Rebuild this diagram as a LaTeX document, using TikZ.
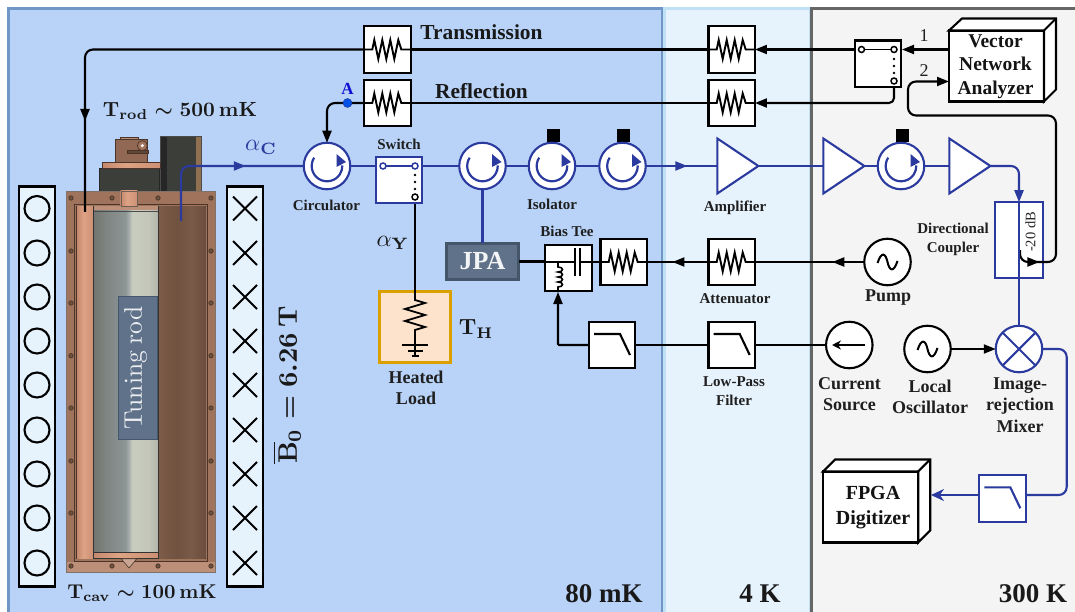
\documentclass[tikz,border=0pt]{standalone}
\usepackage{graphicx}
\usepackage{amsmath}
\usepackage[no-math]{fontspec}
\setmainfont{Liberation Serif}
\usetikzlibrary{arrows.meta,decorations.markings,shapes.geometric,calc}
\definecolor{sig}{HTML}{2B3A9E}
\definecolor{mk}{HTML}{B9D3F8}
\definecolor{mkb}{HTML}{7096C6}
\definecolor{fk}{HTML}{E6F3FD}
\definecolor{fkb}{HTML}{BFE0F5}
\definecolor{rk}{HTML}{F4F4F4}
\definecolor{rkb}{HTML}{666666}
\definecolor{slate}{HTML}{5F7289}
\definecolor{slateb}{HTML}{45566A}
\definecolor{coilfill}{HTML}{E6F3FD}
\definecolor{frm}{HTML}{A0745C}
\definecolor{frml}{HTML}{BC8F79}
\definecolor{frmd}{HTML}{4A3528}
\definecolor{dk}{HTML}{3B3E39}
\definecolor{rodA}{RGB}{114,117,111}
\definecolor{rodB}{RGB}{128,132,130}
\definecolor{rodC}{RGB}{140,150,150}
\definecolor{rodD}{RGB}{170,178,176}
\definecolor{rodE}{RGB}{200,204,190}
\definecolor{rodF}{RGB}{195,198,184}
\definecolor{rodG}{RGB}{178,182,168}
\definecolor{cuA}{RGB}{196,136,110}
\definecolor{cuB}{RGB}{222,162,132}
\definecolor{cuC}{RGB}{204,144,116}
\definecolor{brA}{RGB}{125,92,72}
\definecolor{brB}{RGB}{112,82,64}
\definecolor{brC}{RGB}{122,90,72}
\definecolor{brD}{RGB}{106,78,62}
\pgfdeclarehorizontalshading{rodshade}{100bp}{color(0bp)=(rodA);color(25bp)=(rodA);color(35bp)=(rodB);color(50bp)=(rodC);color(53bp)=(rodD);color(55bp)=(rodE);color(68bp)=(rodF);color(75bp)=(rodG);color(100bp)=(rodG)}
\pgfdeclarehorizontalshading{coppershade}{100bp}{color(0bp)=(cuA);color(25bp)=(cuA);color(45bp)=(cuB);color(75bp)=(cuC);color(100bp)=(cuC)}
\pgfdeclarehorizontalshading{brownshade}{100bp}{color(0bp)=(brA);color(25bp)=(brA);color(45bp)=(brB);color(60bp)=(brC);color(75bp)=(brD);color(100bp)=(brD)}
\tikzset{
  wire/.style={line width=2.1pt,black},
  bwire/.style={line width=2.1pt,sig},
  tip/.style={-{Triangle[length=12pt,width=9pt]}},
  arrat/.style={postaction={decorate,decoration={markings,mark=at position #1 with {\arrow{Triangle[length=12pt,width=9pt]}}}}},
  symbox/.style={draw=black,fill=white,line width=2.1pt,minimum size=46.5pt,inner sep=0,outer sep=0},
  bsymbox/.style={symbox,draw=sig},
  rnd/.style={circle,draw=black,fill=white,line width=2.1pt,minimum size=46.5pt,inner sep=0,outer sep=0},
  brnd/.style={rnd,draw=sig},
  amp/.style={isosceles triangle,isosceles triangle stretches,shape border rotate=0,draw=sig,fill=white,line width=2.1pt,minimum height=41pt,minimum width=55pt,inner sep=0,outer sep=0},
  lab/.style={font=\bfseries\fontsize{15}{19}\selectfont,text=black!88,inner sep=0,align=center},
  labb/.style={font=\bfseries\fontsize{18}{21.5}\selectfont,text=black!88,inner sep=0,align=center},
  big/.style={font=\bfseries\fontsize{21.4}{24}\selectfont,text=black!90,inner sep=0},
  huge/.style={font=\bfseries\fontsize{27}{30}\selectfont,text=black!90,inner sep=0},
  instr/.style={draw=black,fill=white,line width=2.1pt,inner sep=0,outer sep=0},
  instrt/.style={inner sep=0,text=black!92,font=\bfseries\fontsize{19.5}{23.7}\selectfont,align=center},
  coilc/.style={circle,draw=black,line width=2.1pt,minimum size=25pt,inner sep=0},
  coilbox/.style={draw=black,fill=coilfill,line width=2.3pt,minimum width=36pt,minimum height=400pt,inner sep=0,outer sep=0},
}
\newcommand{\ResSym}[3]{\draw[#3,line width=1.9pt,miter limit=10] (#1-24,#2)--(#1-15,#2)--(#1-13,#2-9.5)--(#1-9,#2+9.5)--(#1-5,#2-9.5)--(#1-1,#2+9.5)--(#1+3,#2-9.5)--(#1+7,#2+9.5)--(#1+11,#2-9.5)--(#1+14,#2)--(#1+24,#2);}
\newcommand{\LPSym}[3]{\draw[#3,line width=2.1pt] (#1-18,#2-11)--(#1+8,#2-11)--(#1+18,#2+10);}
\newcommand{\IsoSym}[2]{\draw[sig,line width=2.2pt] (#1,#2) ++(147:15.3pt) arc[start angle=147,end angle=362,radius=15.3pt];
 \fill[sig] (#1+9.5,#2-12)--(#1+19,#2-4)--(#1+9.5,#2+1)--cycle;}
\newcommand{\SineSym}[2]{\draw[black,line width=2pt] (#1-10,#2+1) .. controls (#1-6,#2-11) and (#1-2,#2-9) .. (#1,#2) .. controls (#1+2,#2+9) and (#1+6,#2+11) .. (#1+10,#2-1);}
\begin{document}
\begin{tikzpicture}[x=1pt,y=-1pt]
\useasboundingbox (0,0) rectangle (1075,612);
\begin{scope}
\clip (0,0) rectangle (1075,612);
\draw[fill=mk,draw=mkb,line width=3pt] (8.5,8.5) rectangle (662,640);
\draw[fill=fk,draw=fkb,line width=3pt] (664.5,8.5) rectangle (810,640);
\draw[fill=rk,draw=rkb,line width=3pt] (811,8.5) rectangle (1085,640);
\end{scope}
% magnet coils
\node[coilbox] (coilL) at (37,386.5) {};
\node[coilbox] (coilR) at (245,386.5) {};
\foreach \i/\y in {1/208.5,2/253,3/297,4/341,5/385,6/430,7/474,8/518,9/563}{
  \node[coilc] (wire\i) at (37,\y) {};
  \draw[black,line width=2.1pt] (233,\y-12)--(257,\y+12) (233,\y+12)--(257,\y-12);
}
% cavity top parts
\fill[dk] (160.7,136.7) rectangle (201.7,191);
\fill[black!85] (160.7,136.7) rectangle (166.5,191);
\fill[black!60!rk!50!brown] (195.7,136.7) rectangle (201.7,191);
\draw[black!70,line width=.5pt] (160.7,136.7) rectangle (201.7,191);
\draw[fill=dk,draw=black!85,line width=.7pt] (99,168) rectangle (159,191);
\shade[shading=coppershade,draw=frmd,line width=.5pt] (102.3,162.3) rectangle (160,168);
\draw[fill=frm!90!black,draw=frmd,line width=.5pt] (115,139.3) rectangle (147.7,162.3);
\draw[fill=frml,draw=frmd,line width=.4pt] (120,137) rectangle (137.7,139.3);
\draw[fill=frm!60!black,draw=frmd,line width=.4pt] (127,150.5) rectangle (148,153);
\draw[fill=frm,draw=frmd,line width=.7pt] (142.3,145.7) circle (5);
\fill[white] (142.3,145.7) circle (1.7);
% cavity body
\draw[fill=frm,draw=frmd!70,line width=.8pt] (66,191) rectangle (215.5,572.5);
\fill[frml] (66.5,562) rectangle (215,572);
\draw[frmd,line width=.6pt] (74,204) rectangle (207.7,561.7);
\draw[frmd,line width=.6pt] (76.7,206) rectangle (205.7,558.7);
\shade[shading=coppershade] (77,206.3) rectangle (93,558.4);
\shade[shading=brownshade] (158,206.3) rectangle (205.4,558.4);
\fill[frml] (93,206.3) rectangle (158,211);
\shade[shading=rodshade] (93,211) rectangle (158,552.7);
\draw[black!70,line width=.6pt] (93,211)--(158,211);
\shade[shading=coppershade] (93,552.7) rectangle (158,558.7);
\draw[black!80,line width=.6pt] (93,206.3)--(93,558.7)--(158,558.7)--(158,206.3) (93,552.7)--(158,552.7);
\shade[shading=coppershade] (120.7,191) rectangle (137.3,206);
\draw[frmd!80,line width=.4pt] (120.7,191) rectangle (137.3,206);
\draw[fill=frml!80!white,draw=frmd,line width=.6pt] (121,558.7)--(137,558.7)--(129,568)--cycle;
\foreach \p in {(71,198),(112,198),(158,198),(211,198),(71,251),(211,251),(71,303),(211,303),(71,355.7),(211,355.7),(71,408),(211,408),(71,461),(211,461),(71,513),(211,513),(71,566),(112,566),(158,566),(211,566)}{
  \draw[frmd,fill=frm!70!black,line width=.7pt] \p circle (2.2);
}
\node[draw=slateb,fill=slate,line width=.8pt,minimum width=39pt,minimum height=143pt,inner sep=0] (tuning) at (137.5,368) {};
\node[rotate=90,inner sep=0,text=white!88!slate] (tuningt) at (135.5,368) {\scalebox{2.55}{$\mathrm{Tuning\ rod}$}};
% nodes: attenuators
\node[symbox] (t1) at (387.3,49.5) {}; \ResSym{387.3}{49.5}{black}
\node[symbox] (r1) at (387.3,103) {}; \ResSym{387.3}{103}{black}
\node[symbox] (t4) at (731.7,49.5) {}; \ResSym{731.7}{49.5}{black}
\node[symbox] (r4) at (731.7,103) {}; \ResSym{731.7}{103}{black}
\node[symbox] (at4) at (731.7,262) {}; \ResSym{731.7}{262}{black}
\node[symbox] (at1) at (623.7,262) {}; \ResSym{623.7}{262}{black}
% filters
\node[symbox] (lp1) at (612,345) {}; \LPSym{612}{345}{black}
\node[symbox] (lp4) at (731.7,345) {}; \LPSym{731.7}{345}{black}
\node[bsymbox] (lp3) at (1002.3,498.3) {}; \LPSym{1002.3}{498.3}{sig}
% switches
\node[bsymbox] (sw1) at (399,180) {};
\node[symbox] (sw2) at (878,63.8) {};
% circulators and isolators
\fill[black] (546.7,129) rectangle (560,142.5);
\fill[black] (617,129) rectangle (630,142.5);
\fill[black] (896,129) rectangle (909,142.5);
\node[brnd] (c1) at (327,166) {}; \IsoSym{327}{166}
\node[brnd] (c2) at (482.5,166) {}; \IsoSym{482.5}{166}
\node[brnd] (iso1) at (552,166) {}; \IsoSym{552}{166}
\node[brnd] (iso2) at (622.5,166) {}; \IsoSym{622.5}{166}
\node[brnd] (iso3) at (901,166) {}; \IsoSym{901}{166}
% amplifiers
\node[amp] (amp1) at (732,166) {};
\node[amp] (amp2) at (838,166) {};
\node[amp] (amp3) at (964,166) {};
% sources
\node[rnd] (pump) at (887.5,262) {}; \SineSym{887.5}{262}
\node[rnd] (cur) at (849.3,345) {};
\draw[wire,-{Stealth[length=9pt,width=9pt]}] (865,345)--(832,345);
\node[rnd] (lo) at (927.5,349) {}; \SineSym{927.5}{349}
\node[brnd] (mix) at (1019,349) {};
\draw[bwire] (mix.north west)--(mix.south east) (mix.north east)--(mix.south west);
% JPA, bias tee, load
\node[draw=slateb,fill=slate,line width=2.1pt,minimum width=72pt,minimum height=36pt,inner sep=0,outer sep=0,text=white!92!slate,font=\bfseries\fontsize{26}{30}\selectfont] (jpa) at (482.5,261.5) {JPA};
\node[symbox] (bt) at (568.5,268) {};
\draw[wire] (544.5,262)--(575 ,262) (580,262)--(592,262);
\draw[wire] (575,248)--(575,276) (580,248)--(580,276);
\draw[wire,line width=1.6pt] (558,262)--(558,267) .. controls (564,267) and (564,272) .. (558,272) .. controls (564,272) and (564,277) .. (558,277) .. controls (564,277) and (564,282) .. (558,282) .. controls (564,282) and (564,287) .. (558,287) -- (558,292);
\node[draw={rgb,255:red,218;green,160;blue,0},fill={rgb,255:red,254;green,227;blue,204},line width=2.2pt,minimum size=71pt,inner sep=0,outer sep=0] (load) at (415,327) {};
\draw[black,line width=1.8pt] (415,291)--(415,300)--(425,303)--(405,309)--(425,315)--(405,321)--(425,327)--(415,330)--(415,345);
\draw[black,line width=1.8pt] (402,345)--(428,345) (408,351)--(423,351) (411.7,356)--(419,356) (415,345)--(415,356);
% dual-box instruments
\node[instr,minimum width=95pt,minimum height=71pt] (vna) at (996.5,66) {};
\draw[black,line width=2.1pt,fill=white] (vna.north west)--++(13,-12)--++(94,0)--++(0,71)--(vna.south east)--(vna.north east)--cycle;
\draw[black,line width=2.1pt] (vna.north east)--++(12,-12);
\node[instrt] (vnat) at (995.5,66.5) {Vector\\Network\\Analyzer};
\node[instr,minimum width=95pt,minimum height=71pt] (fpga) at (870.7,507) {};
\draw[black,line width=2.1pt,fill=white] (fpga.north west)--++(12,-12)--++(95,0)--++(0,71)--(fpga.south east)--(fpga.north east)--cycle;
\draw[black,line width=2.1pt] (fpga.north east)--++(12,-12);
\node[instrt,font=\bfseries\fontsize{20}{25.5}\selectfont] (fpgat) at (873,507.5) {FPGA\\Digitizer};
% coupler
\node[draw=sig,fill=white,line width=1.7pt,minimum width=47.5pt,minimum height=75.5pt,inner sep=0,outer sep=0] (coup) at (1019,240) {};
% named free ends
\coordinate (cavT) at (85,212);
\coordinate (cavC) at (181,221);
\coordinate (vna1) at (949,49.5);
\coordinate (vna2) at (949,81.5);
\coordinate (sw2l) at (854,49.5);
\coordinate (sw2a) at (902,49.5);
\coordinate (sw2b) at (894,88);
\coordinate (couptap) at (1020,250);
% connectors
\draw[wire,rounded corners=8pt,arrat=-91pt] (t1.west)--(85,49.5)--(cavT);
\draw[wire] (t4.west)--(t1.east);
\draw[wire,tip] (sw2l)--(t4.east);
\draw[wire,tip] (vna1)--(sw2a);
\draw[wire,tip,rounded corners=5pt] (sw2b)--(894,103)--(r4.east);
\draw[wire] (r4.west)--(r1.east);
\draw[wire,tip,rounded corners=8pt] (r1.west)--(327,103)--(c1.north);
\draw[wire,tip,rounded corners=8pt,arrat=28pt] (couptap)--(1020,262)--(1056,262)--(1056,115.5)--(908,115.5)--(908,81.5)--(vna2);
\draw[bwire,rounded corners=8pt,arrat=-58pt] (cavC)--(181,166)--(c1.west);
\draw[bwire] (c1.east)--(sw1.west|-c1);
\draw[bwire] (sw1.east|-c1)--(c2.west);
\draw[bwire] (c2.east)--(iso1.west);
\draw[bwire] (iso1.east)--(iso2.west);
\draw[bwire,arrat=-30pt] (iso2.east)--(amp1.lower side);
\draw[bwire] (amp1.apex)--(amp2.lower side);
\draw[bwire] (amp2.apex)--(iso3.west);
\draw[bwire] (iso3.east)--(amp3.lower side);
\draw[bwire,rounded corners=8pt,tip] (amp3.apex)--(coup.north|-amp3.apex)--(coup.north);
\draw[bwire] (coup.north)--(mix.north);
\draw[bwire] (c2.south)--(jpa.north);
\draw[black,line width=1.8pt] (415,204)--(415,291);
\draw[wire] (jpa.east)--(bt.west|-jpa);
\draw[wire] (bt.east|-at1)--(at1.west);
\draw[wire,arrat=36pt] (at4.west)--(at1.east);
\draw[wire,arrat=32pt] (pump.west)--(at4.east);
\draw[wire,tip,rounded corners=1pt] (lp1.west)--(558,345)--(558,292);
\draw[wire] (lp4.west)--(lp1.east);
\draw[wire] (cur.west)--(lp4.east);
\draw[wire,tip] (lo.east)--(mix.west);
\draw[bwire,rounded corners=8pt] (mix.east)--(1066.7,349)--(1066.7,495)--(lp3.east|-0,495);
\draw[bwire,-{Stealth[length=13pt,width=12pt]}] (lp3.west|-0,495)--(931,495);
% switch contacts
\draw[bwire,line width=1.7pt] (383,166)--(415,166);
\draw[sig,line width=1.5pt,fill=white] (383,166) circle (3) (415,166) circle (3);
\draw[black,line width=1.5pt,fill=white] (415,197) circle (3);
\fill[black] (415,175) circle (1.3) (415,182) circle (1.3) (415,189) circle (1.3);
\draw[wire,line width=1.7pt] (861.5,49.5)--(894,49.5);
\draw[black,line width=1.5pt,fill=white] (861.5,49.5) circle (3) (894,49.5) circle (3) (894,81) circle (3);
\fill[black] (894,59) circle (1.3) (894,66) circle (1.3) (894,73) circle (1.3);
% marker A
\node[circle,fill={rgb,255:red,0;green,80;blue,230},draw=sig,line width=.5pt,minimum size=9pt,inner sep=0] (dotA) at (347.5,103) {};
\node[text={rgb,255:red,16;green,16;blue,208},font=\bfseries\fontsize{17}{20}\selectfont,inner sep=0] (labA) at (347.5,88.5) {A};
% labels
\node[big] (ltrans) at (481.5,32) {Transmission};
\node[big] (lrefl) at (481.5,91) {Reflection};
\node[lab] (lcirc) at (326.5,205) {Circulator};
\node[lab] (lsw) at (399,144) {Switch};
\node[lab] (liso) at (552,204) {Isolator};
\node[lab] (lbt) at (567,231) {Bias Tee};
\node[lab] (lamp) at (735,208) {Amplifier};
\node[lab] (latt) at (735,299) {Attenuator};
\node[lab] (llp) at (734,391.5) {Low-Pass\\Filter};
\node[lab] (ldc) at (953,239.5) {Directional\\Coupler};
\node[labb] (lpump) at (888,298) {Pump};
\node[labb] (lcur) at (849.5,394) {Current\\Source};
\node[labb] (llo) at (930,397) {Local\\Oscillator};
\node[labb] (lmix) at (1020,405) {Image-\\rejection\\Mixer};
\node[labb] (lheat) at (416,388) {Heated\\Load};
\node[huge] (l80) at (604,594) {80 mK};
\node[huge] (l4) at (760,594) {4 K};
\node[huge] (l300) at (1033,594) {300 K};
\node[rotate=90,inner sep=0,font=\fontsize{14.5}{15}\selectfont,text=black!85] (l20) at (1030.5,232) {-20 dB};
\node[text=black!88,font=\fontsize{18}{20}\selectfont,inner sep=0] (l1) at (924,36) {1};
\node[text=black!88,font=\fontsize{18}{20}\selectfont,inner sep=0] (l2) at (924,71) {2};
\node[inner sep=0,text=sig] (laC) at (261,147.5) {\scalebox{2.35}{$\alpha_{\mathbf{C}}$}};
\node[inner sep=0,text=black!90] (laY) at (393,243) {\scalebox{2.35}{$\alpha_{\mathbf{Y}}$}};
\node[inner sep=0,text=black!90] (lTH) at (476,329) {\scalebox{2.2}{\boldmath$\mathbf{T}_{\mathbf{H}}$}};
\node[inner sep=0,text=black!90] (lTrod) at (180,111) {\scalebox{2.05}{\boldmath$\mathbf{T}_{\mathbf{rod}}\sim\mathbf{500\,mK}$}};
\node[inner sep=0,text=black!90] (lTcav) at (142,593) {\scalebox{2}{\boldmath$\mathbf{T}_{\mathbf{cav}}\sim\mathbf{100\,mK}$}};
\node[inner sep=0,rotate=90,text=black!90] (lB) at (287,385) {\scalebox{2.68}{\boldmath$\overline{\mathbf{B}}_{\mathbf{0}}=\mathbf{6.26\,T}$}};
\end{tikzpicture}
\end{document}
